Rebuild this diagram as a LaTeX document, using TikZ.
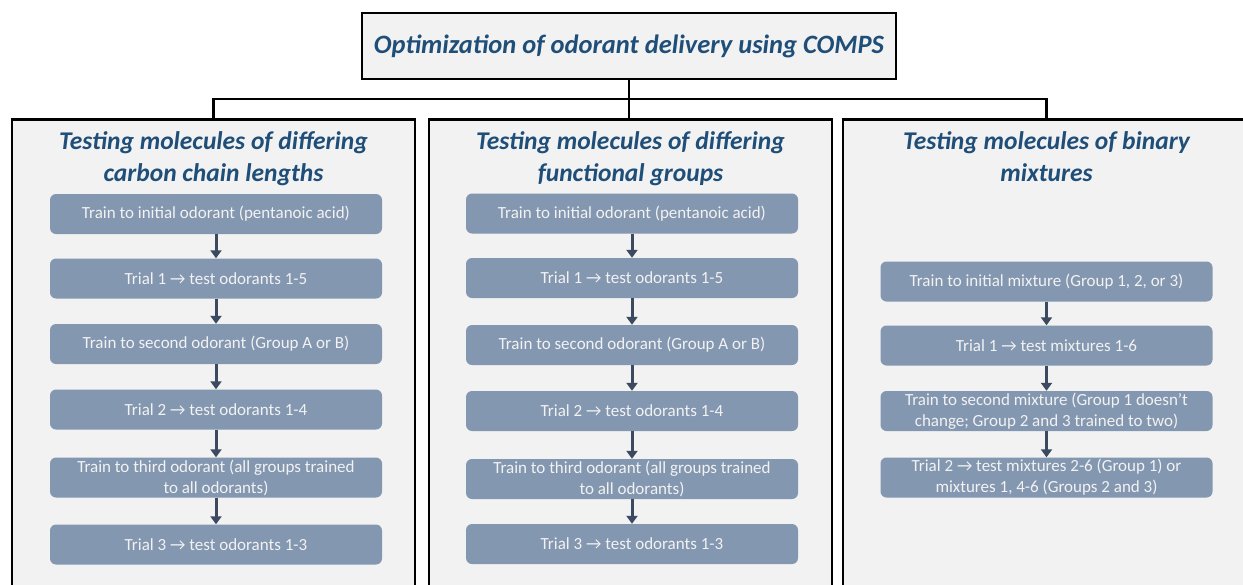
\documentclass[tikz,border=0pt]{standalone}
\usepackage{fontspec}
\setmainfont{Carlito}
\usetikzlibrary{arrows.meta}
\definecolor{panelfill}{HTML}{F2F2F2}
\definecolor{headblue}{HTML}{1F4E79}
\definecolor{boxfill}{HTML}{8497B0}
\definecolor{arrowcol}{HTML}{3B4A60}
\begin{document}
\begin{tikzpicture}[x=1pt,y=-1pt,
  panel/.style={draw=black,line width=2.6pt,fill=panelfill,anchor=north,
    minimum width=403pt,minimum height=490pt,inner sep=0pt},
  titlebox/.style={draw=black,line width=2.6pt,fill=panelfill,
    minimum width=534pt,minimum height=66pt,inner sep=0pt,
    font=\fontsize{26.5}{30}\selectfont\bfseries\itshape,text=headblue},
  heading/.style={font=\fontsize{25.5}{32}\selectfont\bfseries\itshape,text=headblue,
    align=center,anchor=north},
  stepbox/.style={fill=boxfill,rounded corners=6pt,minimum width=332pt,
    minimum height=40pt,inner sep=1pt,text=panelfill,align=center,
    font=\fontsize{17}{21}\selectfont},
  flow/.style={draw=arrowcol,line width=3pt,-{Triangle[width=11pt,length=8pt]}},
  tree/.style={draw=black,line width=2.6pt}
]
\clip (0,0) rectangle (1243,584);
\fill[white] (0,0) rectangle (1243,584);

% title
\node[titlebox] (T) at (629,46) {Optimization of odorant delivery using COMPS};

% panels
\node[panel] (P1) at (213.5,118) {};
\node[panel] (P2) at (630.5,118) {};
\node[panel,minimum width=407pt] (P3) at (1046.5,118) {};

% tree connectors
\coordinate (hub) at (629,99);
\draw[tree] (T.south) -- (T.south |- P2.north);
\draw[tree] (P1.north) |- (hub) -| (P3.north);

% headings
\node[heading] (H1) at (213.5,128) {Testing molecules of differing\\carbon chain lengths};
\node[heading] (H2) at (630.5,128) {Testing molecules of differing\\functional groups};
\node[heading] (H3) at (1046.5,128) {Testing molecules of binary\\mixtures};

% left column
\node[stepbox] (a1) at (216,214) {Train to initial odorant (pentanoic acid)};
\node[stepbox] (a2) at (216,278.5) {Trial 1 → test odorants 1-5};
\node[stepbox] (a3) at (216,344) {Train to second odorant (Group A or B)};
\node[stepbox] (a4) at (216,409.5) {Trial 2 → test odorants 1-4};
\node[stepbox] (a5) at (216,477.5) {Train to third odorant (all groups trained\\to all odorants)};
\node[stepbox] (a6) at (216,544.5) {Trial 3 → test odorants 1-3};

% middle column
\node[stepbox] (b1) at (632,213.5) {Train to initial odorant (pentanoic acid)};
\node[stepbox] (b2) at (632,278) {Trial 1 → test odorants 1-5};
\node[stepbox] (b3) at (632,345) {Train to second odorant (Group A or B)};
\node[stepbox] (b4) at (632,411) {Trial 2 → test odorants 1-4};
\node[stepbox] (b5) at (632,479) {Train to third odorant (all groups trained\\to all odorants)};
\node[stepbox] (b6) at (632,544) {Trial 3 → test odorants 1-3};

% right column
\node[stepbox] (c1) at (1046.5,281.5) {Train to initial mixture (Group 1, 2, or 3)};
\node[stepbox] (c2) at (1046.5,345.5) {Trial 1 → test mixtures 1-6};
\node[stepbox] (c3) at (1046.5,411) {Train to second mixture (Group 1 doesn’t\\change; Group 2 and 3 trained to two)};
\node[stepbox] (c4) at (1046.5,477.5) {Trial 2 → test mixtures 2-6 (Group 1) or\\mixtures 1, 4-6 (Groups 2 and 3)};

% flow arrows
\foreach \u/\v in {a1/a2,a2/a3,a3/a4,a4/a5,a5/a6,b1/b2,b2/b3,b3/b4,b4/b5,b5/b6,c1/c2,c2/c3,c3/c4}
  \draw[flow] (\u.south) -- (\v.north);
\end{tikzpicture}
\end{document}
